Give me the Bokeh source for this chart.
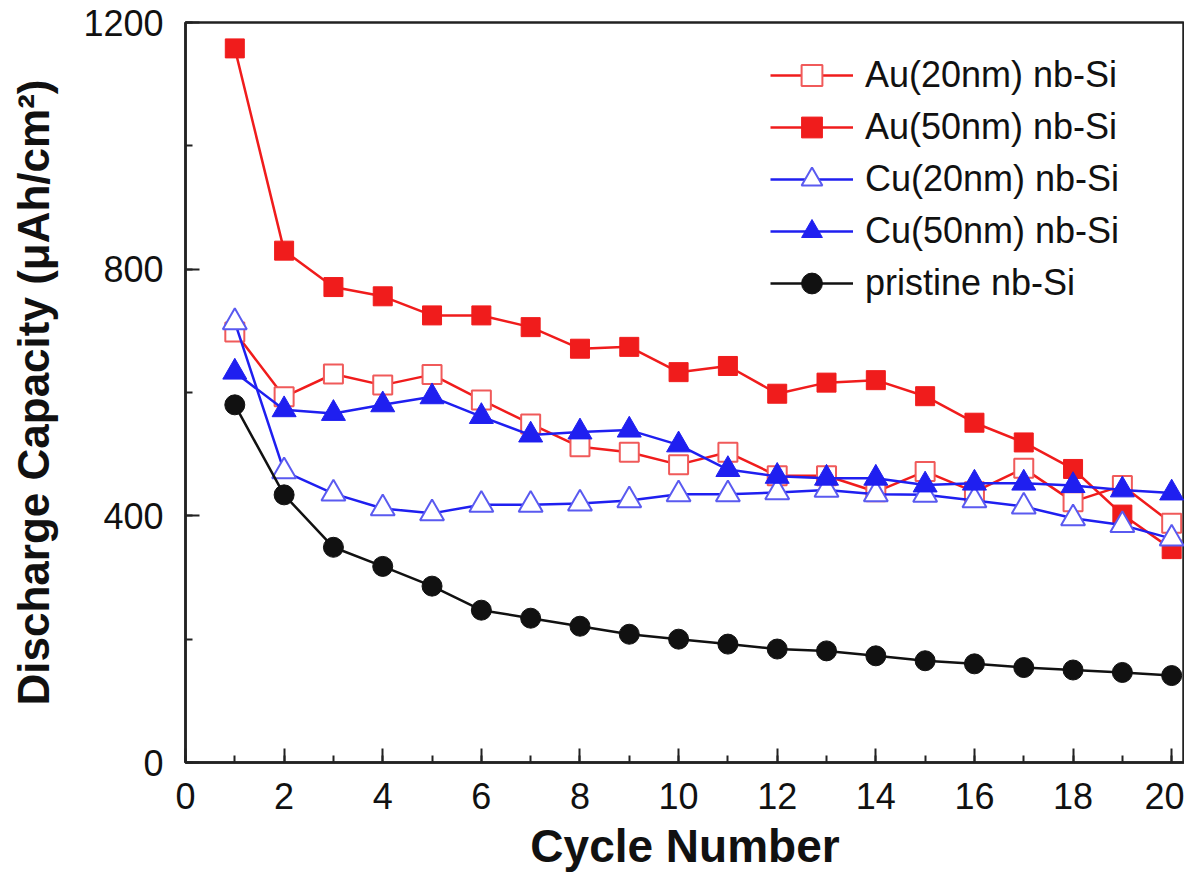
from bokeh.plotting import figure
from bokeh.models import Range1d, SingleIntervalTicker, Legend
from bokeh.embed import file_html
from bokeh.resources import INLINE

cycles = list(range(1, 21))
au20 = [698, 593, 630, 612, 629, 588, 549, 512, 503, 483, 503, 465, 465, 439, 472, 439, 477, 423, 449, 388]
au50 = [1158, 830, 771, 756, 725, 725, 706, 671, 674, 633, 643, 598, 616, 620, 594, 551, 519, 476, 402, 346]
cu20 = [714, 472, 436, 412, 404, 418, 418, 420, 425, 435, 435, 438, 442, 435, 434, 425, 415, 396, 385, 363]
cu50 = [633, 572, 566, 580, 593, 561, 531, 536, 539, 515, 475, 464, 461, 461, 450, 453, 453, 449, 442, 437]
pristine = [580, 434, 349, 318, 286, 247, 234, 221, 208, 200, 192, 184, 181, 173, 165, 160, 154, 150, 146, 141]

labels = ["Au(20nm) nb-Si", "Au(50nm) nb-Si", "Cu(20nm) nb-Si", "Cu(50nm) nb-Si", "pristine nb-Si"]

FONT = "Liberation Sans"

p = figure(width=1184, height=875, output_backend="svg", toolbar_location=None,
           x_range=Range1d(0, 20.26), y_range=Range1d(0, 1200),
           min_border_left=185, min_border_top=22, min_border_right=0, min_border_bottom=113)

p.background_fill_color = "white"
p.border_fill_color = "white"
p.outline_line_color = "#222222"
p.outline_line_width = 2.5
p.xgrid.visible = False
p.ygrid.visible = False

for ax in (p.xaxis[0], p.yaxis[0]):
    ax.axis_line_width = 2.5
    ax.axis_line_color = "#222222"
    ax.major_tick_in = 14
    ax.major_tick_out = 0
    ax.minor_tick_in = 7
    ax.minor_tick_out = 0
    ax.major_tick_line_width = 2
    ax.minor_tick_line_width = 2
    ax.major_tick_line_color = "#222222"
    ax.minor_tick_line_color = "#222222"
    ax.major_label_text_font = FONT
    ax.major_label_text_font_size = "36px"
    ax.major_label_text_color = "#111111"
    ax.axis_label_text_font = FONT
    ax.axis_label_text_font_style = "bold"
    ax.axis_label_text_color = "#111111"

p.xaxis.ticker = SingleIntervalTicker(interval=2, num_minor_ticks=2)
p.yaxis.ticker = SingleIntervalTicker(interval=400, num_minor_ticks=2)
p.xaxis.major_label_standoff = 20
p.yaxis.major_label_standoff = 22
p.xaxis.axis_label = "Cycle Number"
p.xaxis.axis_label_text_font_size = "46px"
p.xaxis.axis_label_standoff = 8
p.yaxis.axis_label = "Discharge Capacity (\u03bcAh/cm\u00b2)"
p.yaxis.axis_label_text_font_size = "44px"
p.yaxis.axis_label_standoff = 22

RED = "#f01c1c"
BLUE = "#1f1ff0"
BLACK = "#111111"

items = []

r1 = p.line(cycles, au20, line_color=RED, line_width=2.5)
s1 = p.scatter(cycles, au20, marker="square", size=19, fill_color="white",
               line_color="#f05a5a", line_width=2)
items.append((labels[0], [r1, s1]))

r2 = p.line(cycles, au50, line_color=RED, line_width=2.5)
s2 = p.scatter(cycles, au50, marker="square", size=19, fill_color=RED, line_color=RED)
items.append((labels[1], [r2, s2]))

r3 = p.line(cycles, cu20, line_color=BLUE, line_width=2.5)
s3 = p.scatter(cycles, cu20, marker="triangle", size=24, fill_color="white",
               line_color="#5a5af0", line_width=2)
items.append((labels[2], [r3, s3]))

r4 = p.line(cycles, cu50, line_color=BLUE, line_width=2.5)
s4 = p.scatter(cycles, cu50, marker="triangle", size=24, fill_color=BLUE, line_color=BLUE)
items.append((labels[3], [r4, s4]))

r5 = p.line(cycles, pristine, line_color=BLACK, line_width=2.5)
s5 = p.scatter(cycles, pristine, marker="circle", size=20, fill_color=BLACK, line_color=BLACK)
items.append((labels[4], [r5, s5]))

legend = Legend(items=items, location=(585, 453))
legend.border_line_color = None
legend.background_fill_alpha = 0
legend.padding = 0
legend.spacing = 0
legend.margin = 0
legend.glyph_width = 83
legend.glyph_height = 52
legend.label_height = 52
legend.label_standoff = 12
legend.label_text_font = FONT
legend.label_text_font_size = "36px"
legend.label_text_color = "#111111"
p.add_layout(legend, "center")

open("out.html", "w").write(file_html(p, INLINE))
